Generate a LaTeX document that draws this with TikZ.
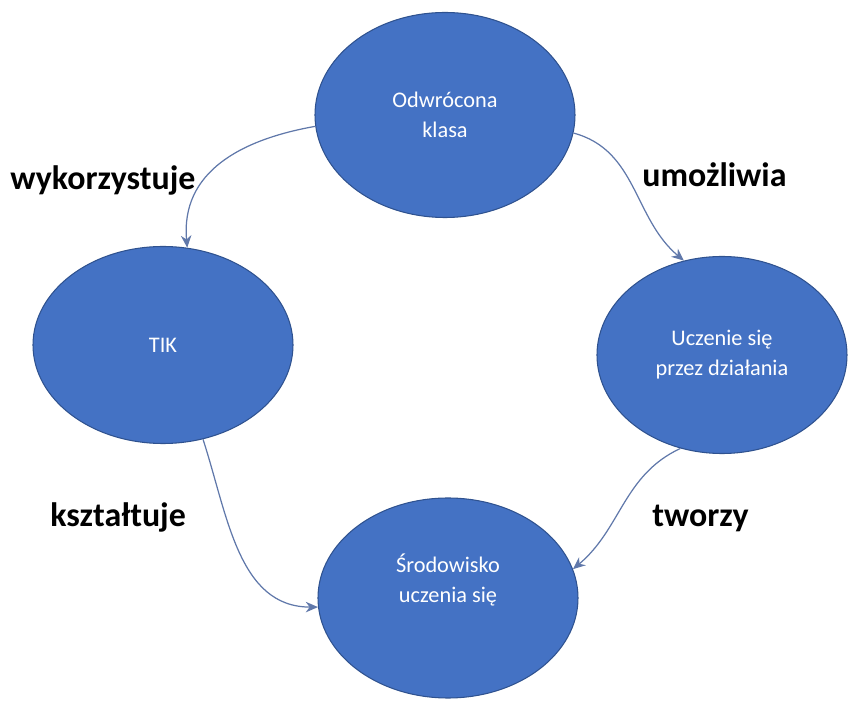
\documentclass[tikz,border=0pt]{standalone}
\usepackage{xcolor}
\usepackage{fontspec}
\setmainfont{Carlito}
\usepackage{tikz}
\usetikzlibrary{arrows.meta,shapes.geometric,calc}

\definecolor{blobfill}{HTML}{4472C4}
\definecolor{blobline}{HTML}{2F528F}
\definecolor{arrowc}{RGB}{96,120,170}

\begin{document}
\begin{tikzpicture}[
    blob/.style={ellipse, fill=blobfill, draw=blobline, line width=0.6pt,
      inner sep=0pt, align=center, text=white,
      font=\fontsize{12.7}{17}\selectfont},
    lbl/.style={anchor=base west, inner sep=0pt,
      font=\fontsize{19.3}{23}\selectfont\bfseries},
    link/.style={-{Stealth[length=7pt,width=6pt]}, arrowc, line width=0.7pt}
  ]
      \useasboundingbox (0,0) rectangle (16.96,14.02);

      \node[blob, minimum width=5.2cm, minimum height=4.1cm] (odw) at (8.9,11.72) {Odwrócona\\klasa};
      \node[blob, minimum width=5.2cm, minimum height=3.94cm] (tik) at (3.26,7.12) {TIK};
      \node[blob, minimum width=5.0cm, minimum height=3.94cm] (ucz) at (14.44,6.92) {Uczenie się\\przez działania};
      \node[blob, minimum width=5.2cm, minimum height=4.0cm] (srod) at (8.96,2.06) {Środowisko\\uczenia się\\[6pt]};

      \draw[link] (odw.185) to[out=190, in=95, looseness=1.1] (tik.76);
      \draw[link] (odw.-8) to[out=-15, in=140] (ucz.112);
      \draw[link] (tik.-67) to[out=-72, in=180] (srod.184);
      \draw[link] (ucz.246) to[out=205, in=40] (srod.13);

      \node[lbl] (wyk) at (0.2,10.22) {wykorzystuje};
      \node[lbl] (umo) at (12.84,10.28) {umożliwia};
      \node[lbl] (ksz) at (1.0,3.48) {kształtuje};
      \node[lbl] (two) at (13.04,3.48) {tworzy};
    \end{tikzpicture}
\end{document}
